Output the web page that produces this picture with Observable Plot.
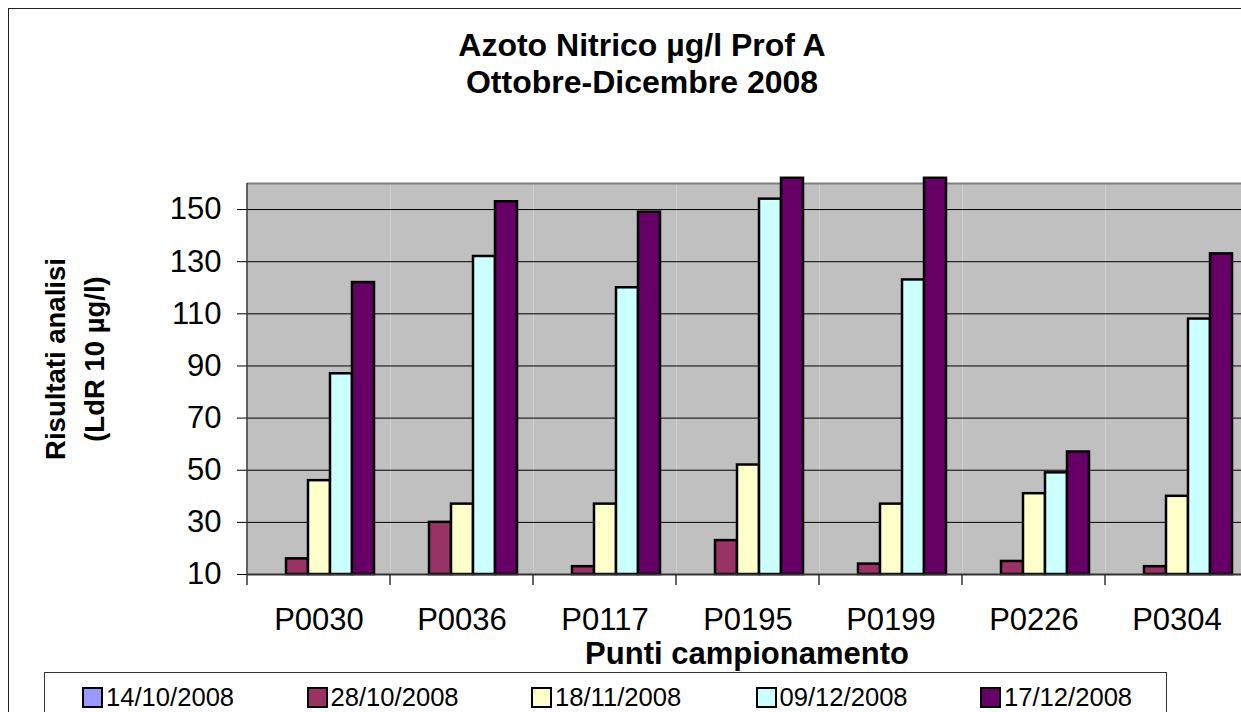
<!DOCTYPE html>
<html><head><meta charset="utf-8">
<script src="https://cdn.jsdelivr.net/npm/d3@7"></script>
<script src="https://cdn.jsdelivr.net/npm/@observablehq/plot@0.6"></script>
<style>
html,body{margin:0;padding:0;background:#fff;overflow:hidden;}
#wrap{position:relative;width:1241px;height:712px;overflow:hidden;font-family:"Liberation Sans",Arial,sans-serif;color:#000;}
#border{position:absolute;left:8px;top:8px;width:1400px;height:800px;border:1.5px solid #222;box-sizing:border-box;}
#chart{position:absolute;left:0;top:0;width:1300px;height:712px;}
#chart svg{max-width:none !important;}
#title{position:absolute;left:0;width:1284px;top:27px;text-align:center;font-weight:bold;font-size:32px;line-height:37px;white-space:nowrap;}
#xtitle{position:absolute;left:447px;width:600px;top:636px;text-align:center;font-weight:bold;font-size:31px;line-height:36px;white-space:nowrap;}
#ytitle{position:absolute;left:75px;top:359px;width:400px;text-align:center;font-weight:bold;font-size:27.5px;line-height:39px;white-space:nowrap;transform:translate(-50%,-50%) rotate(-90deg);}
#legend{position:absolute;left:44px;top:672px;width:1123px;height:80px;border:1.5px solid #333;box-sizing:border-box;}
.item{position:absolute;top:0;height:48px;display:flex;align-items:center;font-size:25.6px;white-space:nowrap;}
.sw{width:17px;height:17px;border:2px solid #000;margin-right:3px;}
</style>
</head><body>
<div id="wrap">
  <div id="border"></div>
  <div id="chart"></div>
  <div id="title"></div>
  <div id="xtitle"></div>
  <div id="ytitle"></div>
  <div id="legend"></div>
</div>
<script>
const titleLines = ["Azoto Nitrico µg/l Prof A", "Ottobre-Dicembre 2008"];
const xTitle = "Punti campionamento";
const yTitleLines = ["Risultati analisi", "(LdR 10 µg/l)"];

const points = ["P0030","P0036","P0117","P0195","P0199","P0226","P0304"];
const dates = ["14/10/2008","28/10/2008","18/11/2008","09/12/2008","17/12/2008"];
const colors = ["#9999FF","#993366","#FFFFCC","#CCFFFF","#660066"];

const v14_10 = [null, null, null, null, null, null, null];
const v28_10 = [16, 30, 13, 23, 14, 15, 13];
const v18_11 = [46, 37, 37, 52, 37, 41, 40];
const v09_12 = [87, 132, 120, 154, 123, 49, 108];
const v17_12 = [122, 153, 149, 162, 162, 57, 133];

const yTicks = [10, 30, 50, 70, 90, 110, 130, 150];
const yDomain = [10, 160];

const series = [v14_10, v28_10, v18_11, v09_12, v17_12];
const rows = points.flatMap((p, i) => dates.map((d, j) => ({point: p, date: d, value: series[j][i]})))
  .filter(r => r.value != null);

document.getElementById("title").innerHTML = titleLines.join("<br>");
document.getElementById("xtitle").textContent = xTitle;
document.getElementById("ytitle").innerHTML = yTitleLines.join("<br>");

const W = 1300, H = 712;
const chart = Plot.plot({
  width: W, height: H,
  marginLeft: 246, marginRight: 51.6, marginTop: 183, marginBottom: 138,
  style: {fontFamily: "Liberation Sans, Arial, sans-serif", fontSize: "31px", background: "transparent", overflow: "visible", maxWidth: "none"},
  fx: {domain: points, paddingInner: 0, paddingOuter: 0, label: null},
  x: {domain: dates, paddingInner: 0, paddingOuter: 0.69, axis: null},
  y: {domain: yDomain, label: null},
  color: {domain: dates, range: colors},
  marks: [
    Plot.frame({fill: "#c0c0c0", stroke: null}),
    Plot.ruleY([yDomain[1]], {stroke: "#808080", strokeWidth: 2}),
    Plot.ruleY(yTicks, {stroke: "#000", strokeWidth: 1}),
    Plot.barY(rows, {fx: "point", x: "date", y1: yDomain[0], y2: "value", fill: "date", stroke: "#000", strokeWidth: 2.5}),
    Plot.ruleY([yDomain[0]], {stroke: "#333", strokeWidth: 2}),
    Plot.axisY({ticks: yTicks, tickSize: 10, tickPadding: 16, fontSize: 31, label: null, stroke: "#000"}),
    Plot.axisFx({anchor: "bottom", tickSize: 0, tickPadding: 33, fontSize: 31, label: null})
  ]
});
document.getElementById("chart").appendChild(chart);

// Excel-style category boundary ticks and left axis line, from the plot's own scales
const fx = chart.scale("fx"), y = chart.scale("y");
const yb = y.apply(yDomain[0]), yt = y.apply(yDomain[1]);
const svg = d3.select(chart);
const g = svg.append("g").attr("stroke", "#333").attr("stroke-width", 1.5);
const left = fx.apply(points[0]);
g.append("line").attr("x1", left).attr("x2", left).attr("y1", yt).attr("y2", yb + 11);
points.forEach(p => {
  const xe = fx.apply(p) + fx.bandwidth;
  g.append("line").attr("x1", xe).attr("x2", xe).attr("y1", yb).attr("y2", yb + 11);
});

// legend
const legend = document.getElementById("legend");
dates.forEach((d, i) => {
  const it = document.createElement("div");
  it.className = "item";
  it.style.left = (37 + i * 224.5) + "px";
  const sw = document.createElement("div");
  sw.className = "sw";
  sw.style.background = colors[i];
  const tx = document.createElement("span");
  tx.textContent = d;
  it.appendChild(sw); it.appendChild(tx);
  legend.appendChild(it);
});
</script>
</body></html>
